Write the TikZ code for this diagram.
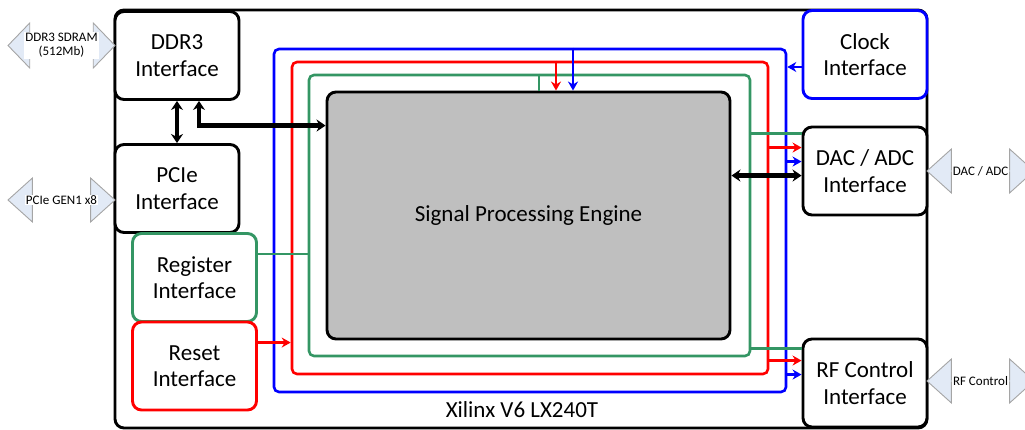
\documentclass[tikz,border=0pt]{standalone}
\usepackage{fontspec}
\setmainfont{Carlito}
\usepackage{tikz}
\usetikzlibrary{shapes.arrows, arrows.meta, positioning, calc}
\usepackage{xcolor}
\definecolor{sgreen}{RGB}{52,150,100}
\definecolor{extfill}{RGB}{226,234,246}
\definecolor{extedge}{RGB}{165,165,165}
\definecolor{spegray}{RGB}{191,191,191}

\begin{document}
\begin{tikzpicture}[x=1pt, y=-1pt,
    block/.style = {rectangle, draw=black, fill=white, line width=2.9pt, rounded corners=9pt, align=center, font=\fontsize{23}{26.5}\selectfont, minimum width=124pt, minimum height=88pt, inner sep=2pt},
    ring/.style = {rectangle, line width=2.6pt, rounded corners=5pt, minimum width=#1, inner sep=0pt},
    wire/.style = {line width=2.6pt},
    tip/.style = {-{Stealth[length=9pt, width=10pt]}},
    wide/.style = {line width=4.2pt, {Stealth[length=9pt, width=12pt]}-{Stealth[length=9pt, width=12pt]}},
    extarrow/.style = {double arrow, draw=extedge, fill=extfill, line width=0.9pt, double arrow tip angle=84, inner sep=0pt, minimum height=107pt, minimum width=44pt},
    extlabel/.style = {fill=white, inner sep=1pt, align=center, font=\fontsize{13}{14}\selectfont}
]
\clip (0,0) rectangle (1025,430);
\useasboundingbox (0,0) rectangle (1025,430);

% FPGA outline
\node (fpga) [draw, line width=2.9pt, rounded corners=9pt, minimum width=812pt, minimum height=418pt, inner sep=0pt] at (521,219) {};
\node (chip) [font=\fontsize{23}{26.5}\selectfont] at (522,410) {Xilinx V6 LX240T};

% Buses
\node (bluering) [ring=512pt, draw=blue, minimum height=343pt] at (530,220.5) {};
\node (redring) [ring=476pt, draw=red, minimum height=312pt] at (530,218) {};
\node (greenring) [ring=441pt, draw=sgreen, minimum height=281pt] at (529.5,215.5) {};

% Engine
\node (spe) [block, fill=spegray, minimum width=403pt, minimum height=247pt] at (528.5,215.5) {Signal Processing Engine};

% Interfaces
\node (ddr) [block] at (177,55.5) {DDR3\\Interface};
\node (pcie) [block] at (177,188.5) {PCIe\\Interface};
\node (reg) [block, draw=sgreen] at (194.5,277.5) {Register\\Interface};
\node (rst) [block, draw=red] at (194.5,366) {Reset\\Interface};
\node (clk) [block, draw=blue] at (865,54.5) {Clock\\Interface};
\node (dac) [block] at (865,171) {DAC / ADC\\Interface};
\node (rf) [block] at (865,383) {RF Control\\Interface};

% External ports
\node (ddrx) [extarrow, minimum width=45pt, double arrow head extend=5pt, double arrow tip angle=92] at (61.5,45.5) {};
\node [extlabel] at (ddrx) {DDR3 SDRAM\\(512Mb)};
\node (pciex) [extarrow, double arrow head extend=12pt] at (61.5,200) {};
\node [extlabel] at (pciex) {PCIe GEN1 x8};
\node (dacx) [extarrow, double arrow head extend=12pt] at (980.5,171) {};
\node [extlabel] at (dacx) {DAC / ADC};
\node (rfx) [extarrow, double arrow head extend=12pt] at (980.5,381) {};
\node [extlabel] at (rfx) {RF Control};

% Memory paths
\draw [wide] (ddr.south) -- (pcie.north);
\coordinate (ddrin) at ([yshift=-35pt]spe.north west);
\draw [wide] ([xshift=22pt]ddr.south) |- (ddrin);
\coordinate (dacin) at ([yshift=-50pt]dac.north west);
\draw [wide] (spe.east |- dacin) -- (dacin);

% Drops into the engine
\coordinate (gdrop) at ([xshift=10.5pt]spe.north);
\coordinate (rdrop) at ([xshift=27.5pt]spe.north);
\coordinate (bdrop) at ([xshift=44.5pt]spe.north);
\draw [wire, draw=sgreen] (greenring.north -| gdrop) -- (gdrop);
\draw [wire, draw=red, tip] (redring.north -| rdrop) -- (rdrop);
\draw [wire, draw=blue, tip] (bluering.north -| bdrop) -- (bdrop);

% Clock, register and reset feeds
\coordinate (clkout) at ([yshift=-12.5pt]clk.west);
\draw [wire, draw=blue, tip] (clkout) -- (bluering.east |- clkout);
\coordinate (regout) at ([yshift=-22pt]reg.north east);
\draw [wire, draw=sgreen] (regout) -- (greenring.west |- regout);
\coordinate (rstout) at ([yshift=-22pt]rst.north east);
\draw [wire, draw=red, tip] (rstout) -- (redring.west |- rstout);

% DAC / ADC feeds
\coordinate (dacg) at ([yshift=-8pt]dac.north west);
\coordinate (dacr) at ([yshift=-22pt]dac.north west);
\coordinate (dacb) at ([yshift=-36pt]dac.north west);
\draw [wire, draw=sgreen] (greenring.east |- dacg) -- (dacg);
\draw [wire, draw=red, tip] (redring.east |- dacr) -- (dacr);
\draw [wire, draw=blue, tip] (bluering.east |- dacb) -- (dacb);

% RF control feeds
\coordinate (rfg) at ([yshift=-11pt]rf.north west);
\coordinate (rfr) at ([yshift=-23pt]rf.north west);
\coordinate (rfb) at ([yshift=-37pt]rf.north west);
\draw [wire, draw=sgreen] (greenring.east |- rfg) -- (rfg);
\draw [wire, draw=red, tip] (redring.east |- rfr) -- (rfr);
\draw [wire, draw=blue, tip] (bluering.east |- rfb) -- (rfb);

\end{tikzpicture}
\end{document}
